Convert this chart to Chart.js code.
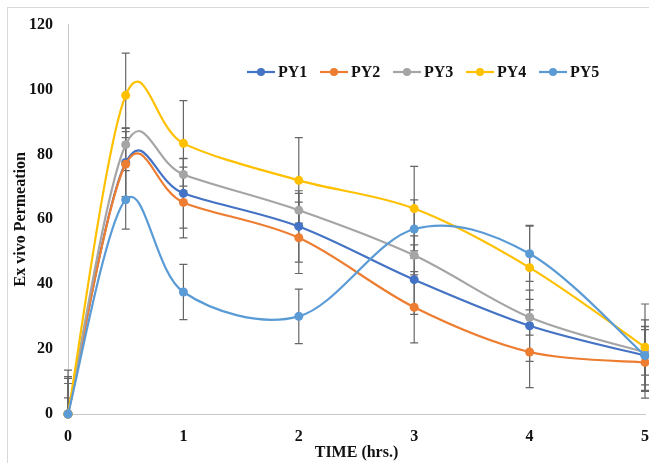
<!DOCTYPE html>
<html>
<head>
<meta charset="utf-8">
<script src="https://cdn.jsdelivr.net/npm/chart.js@4.4.1/dist/chart.umd.min.js"></script>
<style>
  html, body { margin: 0; padding: 0; background: #fff; overflow: hidden; }
  #frame { position: absolute; left: 7px; top: 7px; width: 700px; height: 500px; border: 1px solid #d9d9d9; }
  #wrap { position: absolute; left: 0; top: 0; }
</style>
</head>
<body>
<div id="frame"></div>
<div id="wrap"><canvas id="permChart" width="680" height="463"></canvas></div>
<script>
// time points (hrs.)
const times = [0, 0.5, 1, 2, 3, 4, 5];
const seriesNames = ['PY1', 'PY2', 'PY3', 'PY4', 'PY5'];

// ex vivo permeation values
const py1 = [0, 77.5, 68, 57.8, 41.4, 27.2, 18];
const py2 = [0, 77, 65.2, 54.3, 32.9, 19.1, 15.9];
const py3 = [0, 83, 73.8, 62.8, 48.9, 29.8, 19];
const py4 = [0, 98.2, 83.4, 72, 63.3, 45.1, 20.6];
const py5 = [0, 66, 37.6, 30.1, 57, 49.4, 18];

// error bar sizes (+/-)
const err1 = [11.5, 10.5, 10.7, 11, 10.7, 11, 11];
const err2 = [11, 10, 10.9, 11, 11, 11, 11];
const err3 = [5, 5.2, 5, 5.2, 6, 5.5, 7];
const err4 = [13.5, 13, 13.2, 13.2, 13, 13, 13.3];
const err5 = [9.4, 9, 8.5, 8.4, 9, 8.5, 9];

const yTicks = [0, 20, 40, 60, 80, 100, 120];
const xTicks = [0, 1, 2, 3, 4, 5];

const colors = ['#4472C4', '#ED7D31', '#A5A5A5', '#FFC000', '#5B9BD5'];
const values = [py1, py2, py3, py4, py5];
const errors = [err1, err2, err3, err4, err5];
const serif = "'Liberation Serif', 'Times New Roman', serif";

const datasets = values.map((vals, i) => ({
    label: seriesNames[i],
    data: times.map((t, j) => ({ x: t, y: vals[j] })),
    err: errors[i],
    borderColor: colors[i],
    backgroundColor: colors[i],
    pointBackgroundColor: colors[i],
    pointBorderWidth: 0,
    pointRadius: 4.5,
    borderWidth: 2.2,
    tension: 0.4,
    clip: false,
    order: values.length - i
}));

// Excel-like smoothing: control points at 1/6 of the neighbour span
const excelSmooth = {
    id: 'excelSmooth',
    beforeDatasetsDraw(chart) {
        chart.getSortedVisibleDatasetMetas().forEach(meta => {
            meta.dataset.updateControlPoints(chart.chartArea);
            const pts = meta.data;
            pts.forEach((p, i) => {
                const prev = pts[i - 1] || p;
                const next = pts[i + 1] || p;
                const dx = (next.x - prev.x) / 6;
                const dy = (next.y - prev.y) / 6;
                p.cp1x = p.x - dx; p.cp1y = p.y - dy;
                p.cp2x = p.x + dx; p.cp2y = p.y + dy;
            });
        });
    }
};

// vertical error bars with caps, drawn under the lines
const errorBars = {
    id: 'errorBars',
    beforeDatasetsDraw(chart) {
        const { ctx, chartArea, scales: { x, y } } = chart;
        ctx.save();
        ctx.beginPath();
        ctx.rect(0, chartArea.top - 2, chart.width, chartArea.bottom - chartArea.top + 2);
        ctx.clip();
        ctx.strokeStyle = '#666666';
        ctx.lineWidth = 1.2;
        chart.data.datasets.forEach(ds => {
            ds.data.forEach((p, j) => {
                const px = x.getPixelForValue(p.x);
                const top = y.getPixelForValue(p.y + ds.err[j]);
                const bot = y.getPixelForValue(p.y - ds.err[j]);
                ctx.beginPath();
                ctx.moveTo(px, top); ctx.lineTo(px, bot);
                ctx.moveTo(px - 4, top); ctx.lineTo(px + 4, top);
                ctx.moveTo(px - 4, bot); ctx.lineTo(px + 4, bot);
                ctx.stroke();
            });
        });
        ctx.restore();
    }
};

// legend inside the plot: line + dot marker, bold label
const lineLegend = {
    id: 'lineLegend',
    afterDraw(chart) {
        const ctx = chart.ctx;
        const cy = 72;
        ctx.save();
        ctx.font = 'bold 16px ' + serif;
        ctx.textBaseline = 'middle';
        chart.data.datasets.forEach((ds, i) => {
            const x0 = 247 + i * 73;
            ctx.strokeStyle = ds.borderColor;
            ctx.lineWidth = 2.2;
            ctx.beginPath();
            ctx.moveTo(x0, cy); ctx.lineTo(x0 + 28, cy);
            ctx.stroke();
            ctx.fillStyle = ds.borderColor;
            ctx.beginPath();
            ctx.arc(x0 + 14, cy, 4, 0, Math.PI * 2);
            ctx.fill();
            ctx.fillStyle = '#111';
            ctx.fillText(ds.label, x0 + 31, cy + 1);
        });
        ctx.restore();
    }
};

new Chart(document.getElementById('permChart'), {
    type: 'line',
    data: { datasets },
    plugins: [excelSmooth, errorBars, lineLegend],
    options: {
        responsive: false,
        animation: false,
        layout: { padding: { left: 0, right: 35, top: 22, bottom: 0 } },
        plugins: { legend: { display: false }, tooltip: { enabled: false } },
        scales: {
            x: {
                type: 'linear',
                min: 0,
                max: 5,
                afterBuildTicks: s => { s.ticks = xTicks.map(v => ({ value: v })); },
                afterFit: s => { s.height = 49; },
                ticks: { padding: 13, color: '#111', font: { family: serif, size: 16, weight: 'bold' } },
                grid: { display: false, drawTicks: false },
                border: { color: '#c8c8c8', width: 1 },
                title: {
                    display: true,
                    text: 'TIME (hrs.)',
                    color: '#111',
                    padding: { top: 0, bottom: 1 },
                    font: { family: serif, size: 16, weight: 'bold' }
                }
            },
            y: {
                min: 0,
                max: 120,
                afterBuildTicks: s => { s.ticks = yTicks.map(v => ({ value: v })); },
                afterFit: s => { s.width = 68; },
                ticks: { padding: 15, color: '#111', font: { family: serif, size: 16, weight: 'bold' } },
                grid: { display: false, drawTicks: false },
                border: { color: '#c8c8c8', width: 1 },
                title: {
                    display: true,
                    text: 'Ex vivo Permeation',
                    color: '#111',
                    padding: { top: 11, bottom: 0 },
                    font: { family: serif, size: 16, weight: 'bold' }
                }
            }
        }
    }
});
</script>
</body>
</html>
